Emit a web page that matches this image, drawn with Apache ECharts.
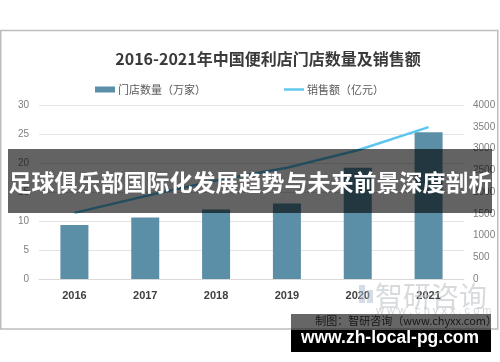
<!DOCTYPE html>
<html><head><meta charset="utf-8">
<script src="https://cdn.jsdelivr.net/npm/echarts@6/dist/echarts.min.js"></script>
<style>html,body{margin:0;padding:0;background:#fff}#c{width:500px;height:362px}</style>
</head><body><div id="c"></div>
<script>
const categories = ['2016','2017','2018','2019','2020','2021'];
const storeCount = [9.3, 10.6, 12.0, 13.0, 19.2, 25.3];
const salesAmount = [1520, 1905, 2264, 2556, 2961, 3492];
const leftTicks = {min:0, max:30, interval:5};
const rightTicks = {min:0, max:4000, interval:500};
const titleText = '2016-2021年中国便利店门店数量及销售额';
const legendNames = ['门店数量（万家）','销售额（亿元）'];
const bannerText = '足球俱乐部国际化发展趋势与未来前景深度剖析';
const footerText = 'www.zh-local-pg.com';
const creditText = '制图：智研咨询（www.chyxx.com）';

const chart = echarts.init(document.getElementById('c'), null, {renderer:'canvas'});
const cjk = '"Noto Sans CJK SC", "Noto Sans", sans-serif';
chart.setOption({
  animation:false,
  title:{text:titleText, left:263, top:46, textAlign:'center',
    textStyle:{fontFamily:cjk, fontSize:16, fontWeight:'bold', color:'#3a3a3a'}},
  legend:{top:79, left:90, itemGap:78, itemWidth:20, itemHeight:6,
    textStyle:{fontFamily:cjk, fontSize:11, color:'#595959', padding:[0,0,0,-2]},
    data:[{name:legendNames[0], icon:'rect'}, {name:legendNames[1], icon:'path://M0,0 L20,0 L20,2.4 L0,2.4 Z'}]},
  grid:{left:39, right:36, top:105, bottom:83},
  xAxis:{type:'category', data:categories,
    axisLine:{lineStyle:{color:'#d9d9d9'}}, axisTick:{show:false},
    axisLabel:{fontFamily:'"Liberation Sans", sans-serif', fontSize:11, fontWeight:'bold', color:'#404040', margin:11}},
  yAxis:[
    {type:'value', min:leftTicks.min, max:leftTicks.max, interval:leftTicks.interval,
     axisLine:{show:false}, axisTick:{show:false},
     splitLine:{lineStyle:{color:'#e3e3e3'}},
     axisLabel:{fontFamily:'"Liberation Sans", sans-serif', fontSize:10, color:'#7f7f7f', margin:10}},
    {type:'value', min:rightTicks.min, max:rightTicks.max, interval:rightTicks.interval,
     axisLine:{show:false}, axisTick:{show:false}, splitLine:{show:false},
     axisLabel:{fontFamily:'"Liberation Sans", sans-serif', fontSize:10, color:'#7f7f7f', margin:9,
       formatter:v => String(v)}}
  ],
  series:[
    {name:legendNames[0], type:'bar', data:storeCount, yAxisIndex:0, barWidth:28,
     itemStyle:{color:'#5b8fa8'}},
    {name:legendNames[1], type:'line', data:salesAmount, yAxisIndex:1, symbol:'none',
     lineStyle:{color:'#5cc6ef', width:2.5}, itemStyle:{color:'#5cc6ef'}}
  ],
  graphic:[
    {type:'rect', shape:{x:0.75, y:30.5, width:497, height:298.5}, style:{fill:'none', stroke:'#bdbdbd', lineWidth:1.5}, z:1},
    {type:'text', x:375, y:282, style:{text:'智研咨询', font:'28px "Noto Sans CJK SC"', fill:'rgba(190,195,200,0.6)'}, z:100},
    {type:'rect', shape:{x:359, y:285, width:6, height:18}, style:{fill:'rgba(170,185,205,0.5)'}, z:100},
    {type:'rect', shape:{x:367, y:290, width:6, height:13}, style:{fill:'rgba(170,185,205,0.5)'}, z:100},
    {type:'text', x:376, y:305, style:{text:'w w w . c h y x x . c o m', font:'11px "Liberation Sans"', fill:'rgba(180,185,190,0.6)'}, z:100},
    {type:'text', x:497, y:321, style:{text:creditText, font:'11px "Noto Sans CJK SC"', fill:'#404040', align:'right', verticalAlign:'middle'}, z:100},
    {type:'rect', shape:{x:8, y:149, width:484, height:64}, style:{fill:'rgba(0,0,0,0.61)'}, z:110},
    {type:'text', x:250, y:182, style:{text:bannerText, font:'bold 23px "Noto Sans CJK SC"', fill:'#ffffff', align:'center', verticalAlign:'middle'}, z:111},
    {type:'rect', shape:{x:291, y:314, width:200, height:16}, style:{fill:'rgba(0,0,0,0.6)'}, z:110},
    {type:'rect', shape:{x:291, y:330, width:200, height:22}, style:{fill:'#000000'}, z:110},
    {type:'text', x:390, y:338, style:{text:footerText, font:'bold 17.5px "Liberation Sans"', fill:'#ffffff', align:'center', verticalAlign:'middle'}, z:111}
  ]
});
</script></body></html>
